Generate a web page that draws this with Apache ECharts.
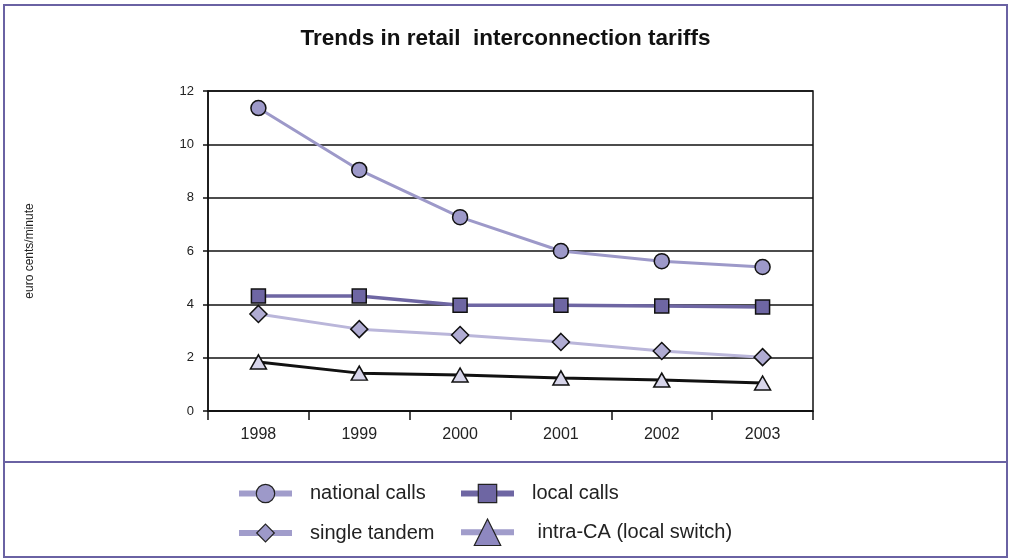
<!DOCTYPE html>
<html>
<head>
<meta charset="utf-8">
<script src="https://cdn.jsdelivr.net/npm/echarts@6/dist/echarts.min.js"></script>
<style>
  html, body { margin: 0; padding: 0; background: #fff; }
  #chart { width: 1011px; height: 559px; }
</style>
</head>
<body>
<div id="chart"></div>
<script>
// Years on the category axis
const years = ['1998', '1999', '2000', '2001', '2002', '2003'];

// Tariffs in euro cents per minute
const nationalCalls = [11.36, 9.04, 7.27, 6.0, 5.62, 5.4];
const localCalls = [4.31, 4.31, 3.97, 3.97, 3.94, 3.9];
const singleTandem = [3.64, 3.07, 2.85, 2.59, 2.25, 2.02];
const intraCA = [1.84, 1.42, 1.35, 1.24, 1.16, 1.05];

const seriesNames = ['national calls', 'local calls', 'single tandem', ' intra-CA (local switch)'];

const FONT = '"Liberation Sans", Arial, Helvetica, sans-serif';
const FRAME = '#6a62a3';

const chart = echarts.init(document.getElementById('chart'));

// One legend box per entry so the two columns line up
function legendBox(name, left, centerY, fill, lineColor, itemH) {
  return {
    left: left,
    top: centerY - itemH / 2,
    padding: 0,
    itemWidth: 53,
    itemHeight: itemH,
    selectedMode: false,
    textStyle: { fontFamily: FONT, fontSize: 20, color: '#222', padding: [0, 0, 0, 13] },
    data: [{
      name: name,
      itemStyle: { color: fill, borderColor: '#222', borderWidth: 1.2 },
      lineStyle: { color: lineColor, width: 6 }
    }]
  };
}

chart.setOption({
  animation: false,
  backgroundColor: '#fff',
  title: {
    text: 'Trends in retail  interconnection tariffs',
    left: 'center',
    top: 22,
    textStyle: { fontFamily: FONT, fontSize: 22.5, fontWeight: 'bold', color: '#111' }
  },
  graphic: [
    {
      type: 'rect',
      shape: { x: 4, y: 5, width: 1003, height: 552 },
      style: { fill: 'none', stroke: FRAME, lineWidth: 2 },
      silent: true
    },
    {
      type: 'line',
      shape: { x1: 4, y1: 462, x2: 1007, y2: 462 },
      style: { stroke: FRAME, lineWidth: 2 },
      silent: true
    }
  ],
  legend: [
    legendBox(seriesNames[0], 236, 495, '#9d99c9', '#a19dcb', 23),
    legendBox(seriesNames[1], 458, 495, '#6e66a3', '#6e66a3', 23),
    legendBox(seriesNames[2], 236, 534, '#9d99c9', '#a19dcb', 22),
    legendBox(seriesNames[3], 458, 535, '#8e88c0', '#a19dcb', 33)
  ],
  grid: {
    left: 208, right: 198, top: 91, bottom: 148,
    show: true, borderColor: '#111', borderWidth: 1.5
  },
  xAxis: {
    type: 'category',
    data: years,
    boundaryGap: true,
    axisLine: { lineStyle: { color: '#111', width: 1.5 } },
    axisTick: { show: true, length: 9, lineStyle: { color: '#111', width: 1.5 } },
    axisLabel: { fontFamily: FONT, fontSize: 16, color: '#222', margin: 16 }
  },
  yAxis: {
    type: 'value',
    min: 0, max: 12, interval: 2,
    name: 'euro cents/minute',
    nameLocation: 'middle',
    nameGap: 172,
    nameTextStyle: { fontFamily: FONT, fontSize: 12, color: '#222' },
    axisLine: { show: true, lineStyle: { color: '#111', width: 1.5 } },
    axisTick: { show: true, length: 5, lineStyle: { color: '#111', width: 1.5 } },
    axisLabel: { fontFamily: FONT, fontSize: 13, color: '#222', margin: 14 },
    splitLine: { lineStyle: { color: '#111', width: 1.5 } }
  },
  series: [
    {
      name: seriesNames[0], type: 'line', data: nationalCalls,
      symbol: 'circle', symbolSize: 15,
      lineStyle: { color: '#9d99c9', width: 3 },
      itemStyle: { color: '#9d99c9', borderColor: '#111', borderWidth: 1.5 },
      z: 5
    },
    {
      name: seriesNames[1], type: 'line', data: localCalls,
      symbol: 'rect', symbolSize: 14,
      lineStyle: { color: '#6e66a3', width: 3.5 },
      itemStyle: { color: '#6e66a3', borderColor: '#111', borderWidth: 1.5 },
      z: 4
    },
    {
      name: seriesNames[2], type: 'line', data: singleTandem,
      symbol: 'diamond', symbolSize: 17,
      lineStyle: { color: '#bab6da', width: 3 },
      itemStyle: { color: '#b0acd3', borderColor: '#111', borderWidth: 1.5 },
      z: 3
    },
    {
      name: seriesNames[3], type: 'line', data: intraCA,
      symbol: 'triangle', symbolSize: [16, 14],
      lineStyle: { color: '#111', width: 3 },
      itemStyle: { color: '#d7d5ea', borderColor: '#111', borderWidth: 1.5 },
      z: 2
    }
  ]
});
</script>
</body>
</html>
